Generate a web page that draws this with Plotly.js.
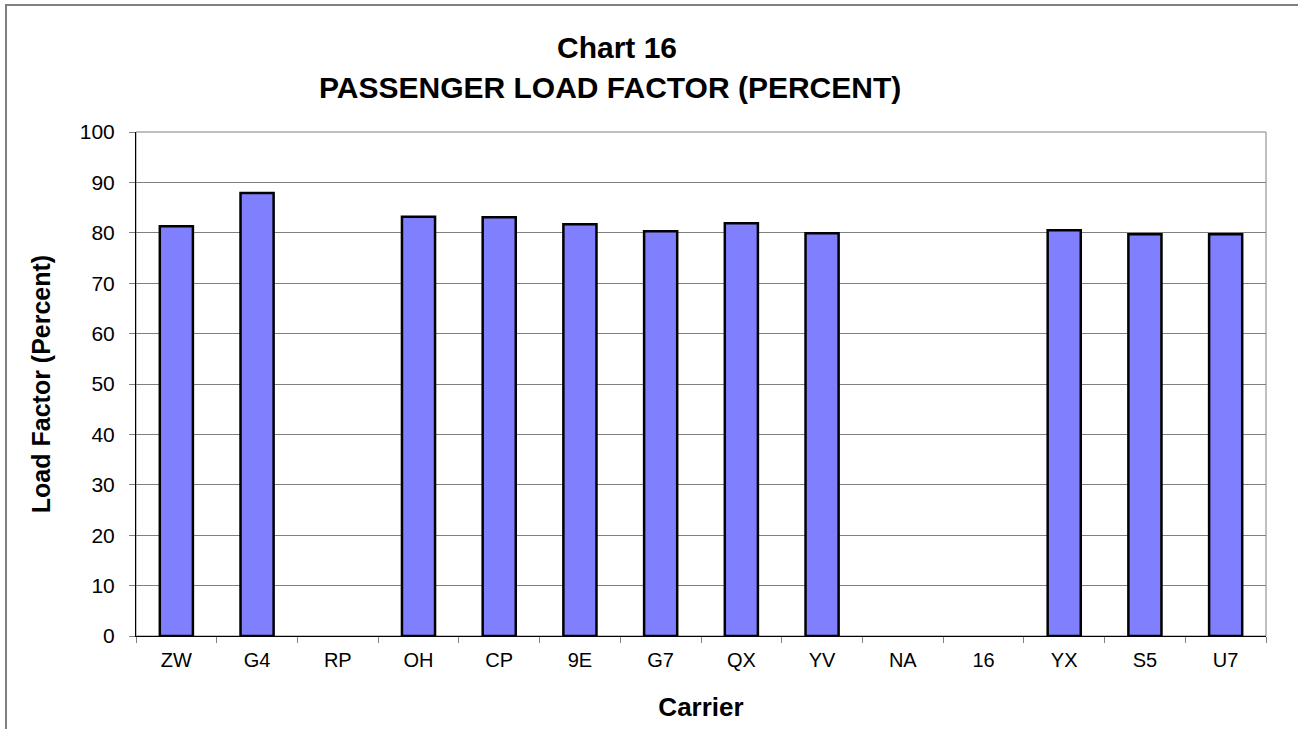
<!DOCTYPE html>
<html>
<head>
<meta charset="utf-8">
<script src="https://cdn.plot.ly/plotly-3.0.1.min.js"></script>
<style>html,body{margin:0;padding:0;background:#fff;}#chart{width:1298px;height:729px;}</style>
</head>
<body>
<div id="chart"></div>
<script>
const carriers = ["ZW","G4","RP","OH","CP","9E","G7","QX","YV","NA","16","YX","S5","U7"];
const loadFactor = [81.3, 87.9, null, 83.2, 83.1, 81.7, 80.3, 81.9, 79.9, null, null, 80.5, 79.7, 79.7];
const titleLine1 = "Chart 16";
const titleLine2 = "PASSENGER LOAD FACTOR (PERCENT)";
const xTitle = "Carrier";
const yTitle = "Load Factor (Percent)";

const FONT = "Liberation Sans, Arial, sans-serif";

const trace = {
  type: "bar",
  x: carriers,
  y: loadFactor,
  marker: {color: "#8080ff", line: {color: "#000000", width: 2.5}},
  hoverinfo: "x+y"
};

const layout = {
  width: 1298, height: 729,
  margin: {l: 136, r: 32, t: 132, b: 93, pad: 0},
  paper_bgcolor: "#ffffff",
  plot_bgcolor: "#ffffff",
  showlegend: false,
  bargap: 0.59,
  font: {family: FONT, color: "#000000"},
  xaxis: {
    type: "category",
    tickson: "boundaries",
    ticks: "outside", ticklen: 6, tickcolor: "#808080", tickwidth: 1,
    showline: true, linecolor: "#000000", linewidth: 1,
    showgrid: false,
    ticklabelstandoff: 6,
    tickfont: {family: FONT, size: 20, color: "#000000"},
    title: {text: xTitle, font: {family: FONT, size: 26, color: "#000000", weight: "bold"}, standoff: 27},
    fixedrange: true
  },
  yaxis: {
    range: [0, 100], dtick: 10, tick0: 0,
    ticks: "outside", ticklen: 6, tickcolor: "#808080", tickwidth: 1,
    showline: true, linecolor: "#000000", linewidth: 1,
    showgrid: true, gridcolor: "#808080", gridwidth: 1,
    zeroline: false,
    ticklabelstandoff: 10,
    tickfont: {family: FONT, size: 21, color: "#000000"},
    title: {text: yTitle, font: {family: FONT, size: 25, color: "#000000", weight: "bold"}, standoff: 22},
    fixedrange: true
  },
  annotations: [
    {xref: "paper", yref: "paper", x: (617-136)/1130, y: 1 + (132-48)/504, text: "<b>" + titleLine1 + "</b>", showarrow: false, xanchor: "center", yanchor: "middle", font: {family: FONT, size: 30, color: "#000000"}},
    {xref: "paper", yref: "paper", x: (609.5-136)/1130, y: 1 + (132-87)/504, text: "<b>" + titleLine2 + "</b>", showarrow: false, xanchor: "center", yanchor: "middle", font: {family: FONT, size: 30, color: "#000000"}}
  ],
  shapes: [
    {type: "rect", xref: "paper", yref: "paper", x0: 0, x1: 1, y0: 0, y1: 1, line: {color: "#808080", width: 1}, layer: "below"},
    {type: "rect", xref: "paper", yref: "paper", x0: (6-136)/1130, x1: 1.2, y0: -0.5, y1: 1 + (132-5)/504, line: {color: "#808080", width: 2}, layer: "below"}
  ]
};

Plotly.newPlot("chart", [trace], layout, {displayModeBar: false, staticPlot: true});
</script>
</body>
</html>
